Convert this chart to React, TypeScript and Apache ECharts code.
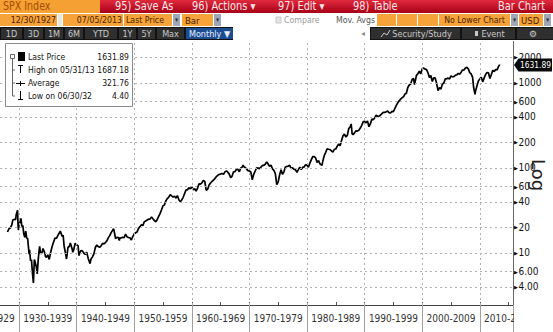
import React, { useEffect, useRef } from "react";
import * as echarts from "echarts";

// ---- data (SPX monthly; key months kept) ----
const dates = [
  "1927-12-30",
  "1928-03", "1928-06", "1928-09", "1928-11", "1928-12",
  "1929-03", "1929-05", "1929-06", "1929-08", "1929-09", "1929-10", "1929-11", "1929-12",
  "1930-02", "1930-04", "1930-06", "1930-08", "1930-10", "1930-12",
  "1931-02", "1931-04", "1931-06", "1931-09", "1931-10", "1931-12",
  "1932-02", "1932-04", "1932-06", "1932-08", "1932-09", "1932-12",
  "1933-02", "1933-04", "1933-06", "1933-07", "1933-09", "1933-12",
  "1934-02", "1934-06", "1934-07", "1934-09", "1934-12",
  "1935-03", "1935-06", "1935-09", "1935-12",
  "1936-03", "1936-06", "1936-09", "1936-12",
  "1937-02", "1937-06", "1937-08", "1937-10", "1937-12",
  "1938-03", "1938-06", "1938-09", "1938-11", "1938-12",
  "1939-03", "1939-04", "1939-06", "1939-09", "1939-12",
  "1940-03", "1940-05", "1940-06", "1940-09", "1940-12",
  "1941-03", "1941-06", "1941-09", "1941-12",
  "1942-04", "1942-06", "1942-09", "1942-12",
  "1943-03", "1943-06", "1943-09", "1943-12",
  "1944-03", "1944-06", "1944-09", "1944-12",
  "1945-03", "1945-06", "1945-09", "1945-12",
  "1946-05", "1946-06", "1946-09", "1946-12",
  "1947-03", "1947-05", "1947-06", "1947-09", "1947-12",
  "1948-03", "1948-06", "1948-09", "1948-12",
  "1949-03", "1949-06", "1949-09", "1949-12",
  "1950-03", "1950-06", "1950-09", "1950-12",
  "1951-03", "1951-06", "1951-09", "1951-12",
  "1952-03", "1952-06", "1952-09", "1952-12",
  "1953-03", "1953-06", "1953-09", "1953-12",
  "1954-03", "1954-06", "1954-09", "1954-12",
  "1955-03", "1955-06", "1955-09", "1955-12",
  "1956-03", "1956-06", "1956-09", "1956-12",
  "1957-03", "1957-06", "1957-09", "1957-12",
  "1958-03", "1958-06", "1958-09", "1958-12",
  "1959-03", "1959-06", "1959-09", "1959-12",
  "1960-03", "1960-06", "1960-09", "1960-12",
  "1961-03", "1961-06", "1961-09", "1961-12",
  "1962-03", "1962-06", "1962-09", "1962-12",
  "1963-03", "1963-06", "1963-09", "1963-12",
  "1964-03", "1964-06", "1964-09", "1964-12",
  "1965-03", "1965-06", "1965-09", "1965-12",
  "1966-03", "1966-06", "1966-09", "1966-12",
  "1967-03", "1967-06", "1967-09", "1967-12",
  "1968-03", "1968-06", "1968-09", "1968-11", "1968-12",
  "1969-03", "1969-06", "1969-09", "1969-12",
  "1970-03", "1970-06", "1970-09", "1970-12",
  "1971-03", "1971-06", "1971-09", "1971-12",
  "1972-03", "1972-06", "1972-09", "1972-12",
  "1973-03", "1973-06", "1973-09", "1973-12",
  "1974-03", "1974-06", "1974-09", "1974-12",
  "1975-03", "1975-06", "1975-09", "1975-12",
  "1976-03", "1976-06", "1976-09", "1976-12",
  "1977-03", "1977-06", "1977-09", "1977-12",
  "1978-03", "1978-06", "1978-09", "1978-12",
  "1979-03", "1979-06", "1979-09", "1979-12",
  "1980-03", "1980-06", "1980-09", "1980-12",
  "1981-03", "1981-06", "1981-09", "1981-12",
  "1982-03", "1982-07", "1982-09", "1982-12",
  "1983-03", "1983-06", "1983-09", "1983-12",
  "1984-03", "1984-06", "1984-09", "1984-12",
  "1985-03", "1985-06", "1985-09", "1985-12",
  "1986-03", "1986-06", "1986-09", "1986-12",
  "1987-03", "1987-06", "1987-08", "1987-10", "1987-12",
  "1988-03", "1988-06", "1988-09", "1988-12",
  "1989-03", "1989-06", "1989-09", "1989-12",
  "1990-03", "1990-06", "1990-09", "1990-12",
  "1991-03", "1991-06", "1991-09", "1991-12",
  "1992-03", "1992-06", "1992-09", "1992-12",
  "1993-03", "1993-06", "1993-09", "1993-12",
  "1994-03", "1994-06", "1994-09", "1994-12",
  "1995-03", "1995-06", "1995-09", "1995-12",
  "1996-03", "1996-06", "1996-09", "1996-12",
  "1997-03", "1997-06", "1997-09", "1997-12",
  "1998-03", "1998-06", "1998-08", "1998-12",
  "1999-03", "1999-06", "1999-09", "1999-12",
  "2000-03", "2000-06", "2000-09", "2000-12",
  "2001-03", "2001-06", "2001-09", "2001-12",
  "2002-03", "2002-06", "2002-09", "2002-12",
  "2003-03", "2003-06", "2003-09", "2003-12",
  "2004-03", "2004-06", "2004-09", "2004-12",
  "2005-03", "2005-06", "2005-09", "2005-12",
  "2006-03", "2006-06", "2006-09", "2006-12",
  "2007-03", "2007-06", "2007-09", "2007-12",
  "2008-03", "2008-06", "2008-09", "2008-11", "2008-12",
  "2009-02", "2009-03", "2009-06", "2009-09", "2009-12",
  "2010-03", "2010-06", "2010-09", "2010-12",
  "2011-03", "2011-06", "2011-09", "2011-12",
  "2012-03", "2012-06", "2012-09", "2012-12",
  "2013-03", "2013-05", "2013-06", "2013-07-05",
];

const closes = [
  17.66,
  19.28, 19.72, 21.4, 24.4, 24.35,
  25.0, 24.6, 28.0, 30.5, 31.8, 21.0, 18.5, 21.45,
  23.1, 25.5, 20.5, 21.0, 16.7, 15.3,
  18.1, 15.0, 14.8, 9.7, 10.9, 8.12,
  8.3, 5.8, 4.43, 8.39, 8.08, 6.89,
  5.66, 8.3, 10.91, 12.0, 9.8, 10.1,
  11.3, 9.9, 9.1, 8.9, 9.5,
  8.4, 10.2, 11.9, 13.43,
  15.0, 14.9, 16.1, 17.18,
  18.1, 15.6, 16.1, 12.0, 10.55,
  8.5, 11.6, 12.0, 13.1, 13.21,
  11.0, 10.2, 10.9, 13.0, 12.49,
  12.2, 9.3, 9.8, 10.7, 10.58,
  9.95, 9.6, 10.2, 8.69,
  7.5, 8.5, 9.0, 9.77,
  11.6, 12.4, 11.9, 11.67,
  12.1, 13.0, 12.8, 13.28,
  13.9, 15.1, 16.0, 17.36,
  19.25, 18.4, 14.8, 15.3,
  15.2, 14.0, 15.1, 15.0, 15.3,
  15.1, 16.7, 15.5, 15.2,
  15.1, 14.2, 15.6, 16.76,
  17.3, 17.7, 19.5, 20.41,
  21.5, 21.0, 23.3, 23.77,
  24.4, 25.0, 25.0, 26.57,
  25.3, 24.1, 23.3, 24.81,
  26.9, 29.2, 32.3, 35.98,
  36.6, 41.0, 43.7, 45.48,
  48.5, 46.9, 45.4, 46.67,
  44.1, 47.4, 42.4, 39.99,
  42.1, 45.2, 50.1, 55.21,
  55.4, 58.5, 56.9, 59.89,
  55.3, 56.9, 53.5, 58.11,
  65.1, 64.6, 66.7, 71.55,
  69.6, 54.8, 56.3, 63.1,
  66.6, 69.4, 71.7, 75.02,
  78.9, 81.7, 84.2, 84.75,
  86.2, 84.1, 89.9, 92.43,
  89.2, 84.7, 77.0, 80.33,
  90.2, 90.6, 96.7, 96.47,
  90.2, 99.6, 102.7, 108.4, 103.86,
  101.5, 97.7, 93.1, 92.06,
  89.6, 72.7, 84.3, 92.15,
  100.3, 99.7, 98.3, 102.09,
  107.2, 107.1, 110.6, 118.05,
  111.5, 104.3, 108.4, 97.55,
  93.98, 86.0, 63.54, 68.56,
  83.4, 95.2, 83.9, 90.19,
  102.8, 104.3, 105.2, 107.46,
  98.4, 100.5, 96.5, 95.1,
  89.2, 95.5, 102.5, 96.11,
  101.6, 102.9, 109.3, 107.94,
  102.1, 114.2, 125.5, 135.76,
  136.0, 131.2, 116.2, 122.55,
  111.96, 107.1, 120.4, 140.64,
  153.0, 168.1, 166.1, 164.93,
  159.2, 153.2, 166.1, 167.24,
  180.7, 191.9, 182.1, 211.28,
  238.9, 250.8, 231.3, 242.17,
  291.7, 304.0, 329.8, 251.8, 247.08,
  258.9, 273.5, 271.9, 277.72,
  294.9, 317.98, 349.2, 353.4,
  339.9, 358.0, 306.1, 330.22,
  375.2, 371.2, 387.9, 417.09,
  403.7, 408.1, 417.8, 435.71,
  451.7, 450.5, 458.9, 466.45,
  445.8, 444.3, 462.7, 459.27,
  500.7, 544.8, 584.4, 615.93,
  645.5, 670.6, 687.3, 740.74,
  757.1, 885.1, 947.3, 970.43,
  1101.8, 1133.8, 957.3, 1229.23,
  1286.4, 1372.7, 1282.7, 1469.25,
  1498.6, 1454.6, 1436.5, 1320.28,
  1160.3, 1224.4, 1040.9, 1148.08,
  1147.4, 989.8, 815.3, 879.82,
  848.2, 974.5, 996.0, 1111.92,
  1126.2, 1140.8, 1114.6, 1211.92,
  1180.6, 1191.3, 1228.8, 1248.29,
  1294.8, 1270.2, 1335.9, 1418.3,
  1420.9, 1503.4, 1526.8, 1468.36,
  1322.7, 1280.0, 1166.4, 896.2, 903.25,
  735.1, 797.9, 919.3, 1057.1, 1115.1,
  1169.4, 1030.7, 1141.2, 1257.64,
  1325.8, 1320.6, 1131.4, 1257.6,
  1408.5, 1362.2, 1440.7, 1426.19,
  1569.2, 1630.7, 1606.3, 1631.89,
];

const yTickValues = [4, 6, 10, 20, 40, 60, 100, 200, 400, 600, 1000, 2000];
const decadeStarts = [1930, 1940, 1950, 1960, 1970, 1980, 1990, 2000, 2010];
const halfDecades = [1930, 1935, 1940, 1945, 1950, 1955, 1960, 1965, 1970, 1975, 1980, 1985, 1990, 1995, 2000, 2005, 2010, 2015];
const decadeLabelCenters = [1935, 1945, 1955, 1965, 1975, 1985, 1995, 2005, 2015];
const legendLabels = ["Last Price", "High on 05/31/13", "Average", "Low on 06/30/32"];
const legendValues = ["1631.89", "1687.18", "321.76", "4.40"];
const lastPrice = 1631.89;
const periodButtons = ["1D", "3D", "1M", "6M", "YTD", "1Y", "5Y", "Max"];

const X_MIN = 1926.7;
const X_MAX = 2015.85;

const FONT = '"DejaVu Sans Condensed", "Liberation Sans", sans-serif';

function toYear(d: string): number {
  const p = d.split("-").map(Number);
  if (p.length === 3) return p[0] + (p[1] - 1) / 12 + p[2] / 365;
  return p[0] + p[1] / 12;
}

function decadeLabel(center: number): string {
  const r = Math.round(center);
  return `${r - 5}-${r + 4}`;
}

function buildGraphics(tagY: number, x1925: number): any[] {
  const G: any[] = [];
  const Z = 100;
  const R = (x: number, y: number, w: number, h: number, fill: any, stroke?: string) =>
    G.push({
      type: "rect", z: Z, silent: true,
      shape: { x, y, width: w, height: h },
      style: { fill, stroke: stroke || null, lineWidth: stroke ? 1 : 0 },
    });
  const T = (x: number, y: number, text: string, size: number, fill: string, align = "left", extra: any = {}) => {
    const { fontFamily, ...rest } = extra;
    G.push({
      type: "text", z: Z + 1, silent: true, x, y, ...rest,
      style: {
        text, fontSize: size, fill, fontFamily: fontFamily || FONT,
        align, textAlign: align, verticalAlign: "middle", textVerticalAlign: "middle",
      },
    });
  };
  const L = (x1: number, y1: number, x2: number, y2: number, stroke: string, w = 1) =>
    G.push({ type: "line", z: Z + 1, silent: true, shape: { x1, y1, x2, y2 }, style: { stroke, lineWidth: w } });

  R(0, 0, 553, 41, "#ffffff");

  // Row 1
  const red = new echarts.graphic.LinearGradient(0, 0, 0, 1, [
    { offset: 0, color: "#e02a3e" },
    { offset: 1, color: "#a80016" },
  ]);
  R(0, 0, 100, 13, "#f5a032");
  T(3, 6.5, "SPX Index", 11.5, "#a24c04", "left", { scaleX: 0.92 });
  R(100, 0, 453, 13, red);
  T(115, 6.5, "95) Save As", 11.5, "#fbe6e6", "left", { scaleX: 0.95 });
  T(192, 6.5, "96) Actions \u25BE", 11.5, "#fbe6e6", "left", { scaleX: 0.95 });
  T(278, 6.5, "97) Edit \u25BE", 11.5, "#fbe6e6", "left", { scaleX: 0.95 });
  T(353, 6.5, "98) Table", 11.5, "#fbe6e6", "left", { scaleX: 0.95 });
  T(545, 6.5, "Bar Chart", 11.5, "#fbe6e6", "right", { scaleX: 0.95 });

  // Row 2
  const OR = "#f6a33a";
  const DD = "#9ea6b8";
  const tc = "#4a1e00";
  R(0, 14, 57, 12, OR); T(56, 20, "12/30/1927", 9.5, tc, "right", { scaleX: 0.92 });
  R(58, 14, 4, 12, "#e6e6e6");
  R(63, 14, 60, 12, OR); T(122, 20, "07/05/2013", 9.5, tc, "right", { scaleX: 0.92 });
  R(124, 14, 48, 12, OR); T(126, 20, "Last Price", 9.5, tc, "left", { scaleX: 0.92 });
  R(173, 14, 7, 12, DD); T(176.5, 20, "\u25BE", 7, "#333", "center");
  R(182, 14, 31, 12, OR); T(185, 20, "Bar", 9.5, tc);
  R(214, 14, 7, 12, DD); T(217.5, 20, "\u25BE", 7, "#333", "center");
  R(276, 17, 5, 6, "#e4e4e4", "#c8c8c8");
  T(284, 20, "Compare", 9.5, "#9a9a9a", "left", { scaleX: 0.92 });
  T(336, 20, "Mov. Avgs", 9.5, "#555555", "left", { scaleX: 0.92 });
  R(377, 14, 19, 12, OR);
  R(397, 14, 20, 12, OR);
  R(418, 14, 20, 12, OR);
  R(439, 14, 71, 12, OR); T(474.5, 20, "No Lower Chart", 9.5, tc, "center", { scaleX: 0.92 });
  R(511, 14, 7, 12, DD); T(514.5, 20, "\u25BE", 7, "#333", "center");
  R(519, 14, 24, 12, OR); T(521, 20, "USD", 9.5, tc);
  R(544, 14, 7, 12, DD); T(547.5, 20, "\u25BE", 7, "#333", "center");

  // Row 3
  R(0, 27, 233, 13, "#121212");
  const btnX = [[1, 22], [24, 43], [45, 63], [65, 83], [85, 117], [119, 136], [138, 155], [157, 184]];
  periodButtons.forEach((b, i) => {
    const [a, c] = btnX[i];
    R(a, 28, c - a, 11, "#2f2f2f");
    T((a + c) / 2, 33.5, b, 9, "#c9c9c9", "center");
  });
  R(186, 28, 47, 11, "#1c4d92");
  T(209.5, 33.5, "Monthly \u25BC", 9, "#e8eeff", "center");
  T(363, 33.5, "\u25C2", 8, "#888888", "center");
  R(370, 27, 183, 13, "#121212");
  R(371, 28, 89, 11, "#2f2f2f");
  R(462, 28, 53, 11, "#2f2f2f");
  R(517, 28, 36, 11, "#2f2f2f");
  G.push({
    type: "polyline", z: Z + 1, silent: true,
    shape: { points: [[381, 37], [384, 33], [387, 35], [390, 30]] },
    style: { stroke: "#c9c9c9", lineWidth: 1, fill: null },
  });
  T(422, 33.5, "Security/Study", 9, "#c9c9c9", "center");
  R(475, 31, 3, 5, "#c9c9c9");
  T(493, 33.5, "Event", 9, "#c9c9c9", "center");
  T(533, 33.5, "\u2699", 9, "#c9c9c9", "center", { fontFamily: "DejaVu Sans" });

  // Legend box
  R(5.5, 43.5, 127, 63, "#ffffff", "#8a8a8a");
  R(10.5, 54.5, 4, 4, "#ffffff", "#666");
  R(18, 52, 7, 9, "#000000");
  L(12.5, 59, 12.5, 96, "#666");
  L(12.5, 70, 15, 70, "#666");
  L(12.5, 83, 15, 83, "#666");
  L(12.5, 96, 15, 96, "#666");
  L(18, 65.5, 23, 65.5, "#000"); L(20.5, 65.5, 20.5, 73, "#000");
  L(16, 83.5, 25, 83.5, "#000"); L(20.5, 81, 20.5, 86, "#000");
  L(20.5, 91, 20.5, 99.5, "#000"); L(18, 99.5, 23, 99.5, "#000");
  const rowsY = [57, 69.5, 83, 95.5];
  legendLabels.forEach((s, i) => {
    T(28, rowsY[i], s, 9.5, "#111111", "left", { scaleX: 0.9 });
    T(129, rowsY[i], legendValues[i], 9.5, "#111111", "right", { scaleX: 0.9 });
  });

  // partial first decade label, left of the plot
  T(x1925, 318.5, decadeLabel(1925), 10, "#333", "center");

  // cover x-label overflow to the right of the axis
  R(514, 306, 39, 26, "#ffffff");

  // "Log" label
  T(538.5, 175, "Log", 18, "#222222", "center", { rotation: -Math.PI / 2, fontFamily: "DejaVu Sans" });

  // last price tag
  G.push({
    type: "polygon", z: Z + 2, silent: true,
    shape: { points: [[514, tagY], [518.5, tagY - 6.5], [552, tagY - 6.5], [552, tagY + 6.5], [518.5, tagY + 6.5]] },
    style: { fill: "#0a0a0a" },
  });
  G.push({
    type: "text", z: Z + 3, silent: true, x: 535.5, y: tagY, scaleX: 0.88,
    style: {
      text: lastPrice.toFixed(2), fontSize: 9.5, fill: "#ffffff", fontFamily: FONT,
      align: "center", textAlign: "center", verticalAlign: "middle", textVerticalAlign: "middle",
    },
  });
  return G;
}

export default function App() {
  const ref = useRef<HTMLDivElement>(null);
  useEffect(() => {
    if (!ref.current) return;
    const chart = echarts.init(ref.current, null, { renderer: "svg" });
    const seriesData = dates.map((d, i) => [toYear(d), Math.log10(closes[i])]);
    const gridLineStyle = { color: "#b0b0b0", type: [2, 3], width: 1 };
    const option: any = {
      animation: false,
      backgroundColor: "#ffffff",
      grid: { left: 0, right: 39.5, top: 41, bottom: 27, containLabel: false },
      xAxis: [
        {
          type: "value", position: "bottom", min: X_MIN, max: X_MAX,
          axisLine: { show: true, lineStyle: { color: "#444", width: 1 } },
          axisTick: {
            show: true, inside: false, length: 27,
            customValues: [...decadeStarts, X_MAX],
            lineStyle: { color: "#a0a0a0" },
          },
          axisLabel: {
            show: true, margin: 8, fontSize: 10, color: "#333", fontFamily: FONT,
            customValues: decadeLabelCenters,
            formatter: (v: number) => decadeLabel(v),
          },
          splitLine: { show: false },
        },
        {
          type: "value", position: "bottom", min: X_MIN, max: X_MAX,
          axisLine: { show: false },
          axisTick: { show: true, inside: true, length: 3, customValues: halfDecades, lineStyle: { color: "#555" } },
          splitLine: { show: false },
          axisLabel: { show: false },
        },
      ],
      yAxis: {
        type: "value", position: "right", min: 0.388, max: 3.494,
        axisLine: { show: true, lineStyle: { color: "#666", width: 1 } },
        axisTick: { show: false },
        splitLine: { show: false },
        axisLabel: {
          show: true, margin: 0,
          customValues: yTickValues.map((v) => Math.log10(v)),
          formatter: (lv: number) => {
            const v = Math.pow(10, lv);
            const s = v >= 10 ? String(Math.round(v)) : v.toFixed(2);
            return `{a|\u25B6}{b|${s}}`;
          },
          rich: {
            a: { fontSize: 5, color: "#000", padding: [0, 1, 0, 0] },
            b: { fontSize: 10, color: "#111", fontFamily: FONT },
          },
        },
      },
      series: [
        {
          type: "line", xAxisIndex: 0, yAxisIndex: 0,
          data: seriesData, showSymbol: false, symbol: "none",
          lineStyle: { color: "#000", width: 1.7 },
          silent: true,
          markLine: {
            silent: true, symbol: "none", label: { show: false },
            lineStyle: gridLineStyle,
            data: [
              ...yTickValues.map((v) => ({ yAxis: Math.log10(v) })),
              ...decadeStarts.map((d) => ({ xAxis: d })),
            ],
          },
        },
      ],
    };
    chart.setOption(option);
    const tagY = chart.convertToPixel({ yAxisIndex: 0 }, Math.log10(lastPrice)) as number;
    const x1925 = chart.convertToPixel({ xAxisIndex: 0 }, 1925) as number;
    chart.setOption({ graphic: buildGraphics(tagY, x1925) });
    return () => chart.dispose();
  }, []);
  return (
    <div
      ref={ref}
      style={{ position: "fixed", left: 0, top: 0, width: 553, height: 332, background: "#fff" }}
    />
  );
}
